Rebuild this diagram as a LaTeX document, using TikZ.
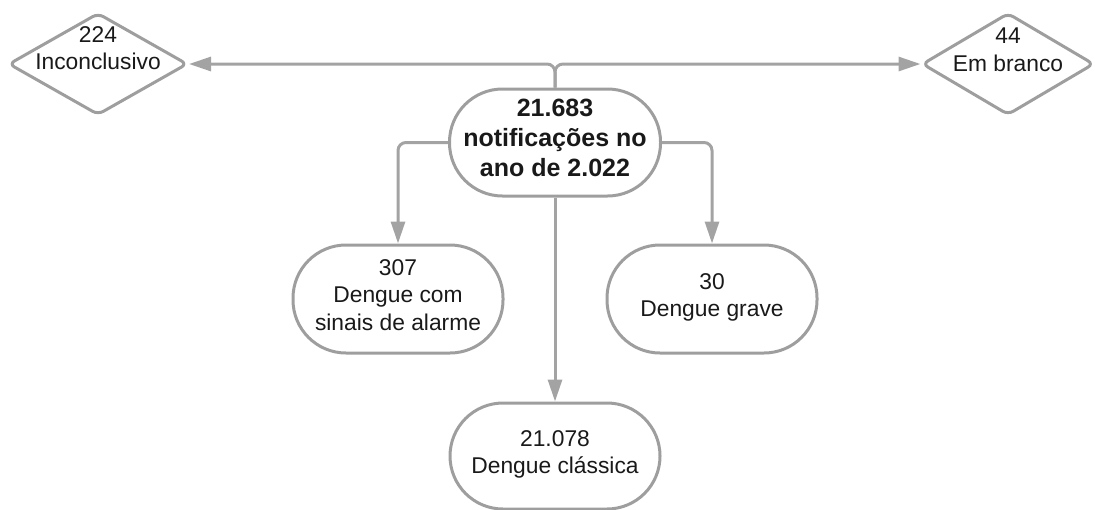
\documentclass[tikz,border=0pt]{standalone}
\usepackage{fontspec}
\setmainfont{Liberation Sans}
\usetikzlibrary{shapes.geometric,arrows.meta}
\begin{document}
\begin{tikzpicture}[x=0.5pt,y=-0.5pt,
	cinza/.style={draw={rgb,255:red,158;green,158;blue,158},line width=1.5pt},
	texto/.style={align=center,inner sep=0pt,text={rgb,255:red,25;green,25;blue,25},
		font=\fontsize{11.4}{13.8}\selectfont,
		execute at begin node=\strut,execute at end node=\strut},
	caixa/.style={cinza,texto,rectangle,rounded corners=26.5pt,minimum width=105pt,minimum height=54pt},
	losango/.style={cinza,diamond,minimum width=89.5pt,minimum height=51pt,inner sep=0pt,rounded corners=3pt},
	seta/.style={draw={rgb,255:red,163;green,163;blue,163},line width=1.5pt,rounded corners=4pt,
		-{Triangle[length=11pt,width=7pt]}}]
\useasboundingbox (0,0) rectangle (1095,509);
\node[caixa,font=\bfseries\fontsize{12.5}{15}\selectfont,minimum width=105.5pt,minimum height=53.5pt]
	(centro) at (555,142.5) {21.683\\notificações no\\ano de 2.022};
\node[caixa] (alarme) at (398,299) {307\\Dengue com\\sinais de alarme};
\node[caixa] (grave) at (712,299) {30\\Dengue grave};
\node[caixa,minimum height=53pt] (classica) at (555,456) {21.078\\Dengue clássica};
\node[losango] (inconcl) at (98,64) {};
\node[texto] (inconcl-t) at ([yshift=6pt]inconcl.center) {224\\Inconclusivo};
\node[losango,minimum width=86pt] (branco) at (1008,64) {};
\node[texto] (branco-t) at ([yshift=5pt]branco.center) {44\\Em branco};
\draw[seta] (centro.north) |- (inconcl.east); %inconclusivo
\draw[seta] (centro.north) |- (branco.west); %em branco
\draw[seta] (centro.west) -| (alarme.north); %alarme
\draw[seta] (centro.east) -| (grave.north); %grave
\draw[seta] (centro.south) -- (classica.north); %classica
\end{tikzpicture}
\end{document}
